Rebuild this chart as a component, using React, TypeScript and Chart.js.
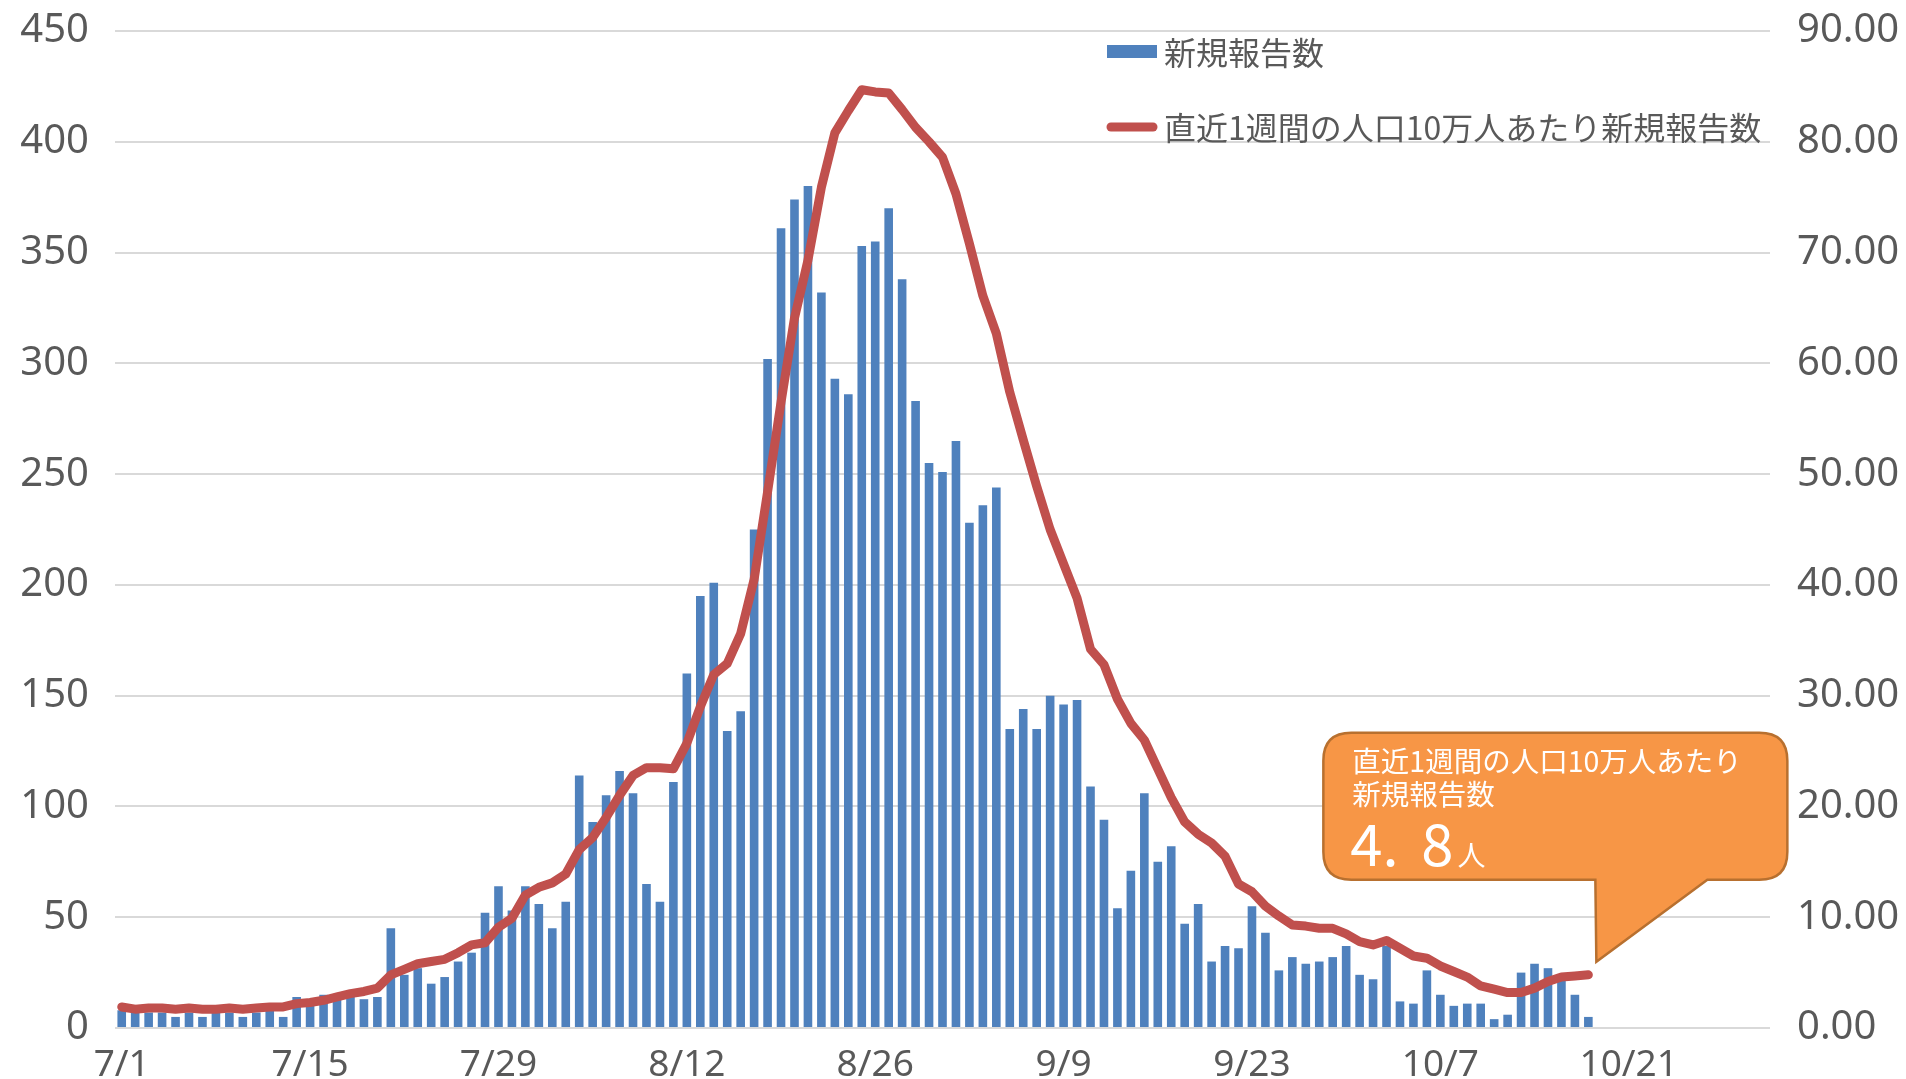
import React, { useEffect, useRef } from 'react';
import { Chart, registerables } from 'chart.js';

Chart.register(...registerables);

// ---- data ----
const MONTHS: [number, number][] = [[7, 31], [8, 31], [9, 30], [10, 31]];
const CATEGORIES: string[] = [];
for (const [m, n] of MONTHS) for (let d = 1; d <= n; d++) CATEGORIES.push(`${m}/${d}`);

const TICK_LABELS = ['7/1', '7/15', '7/29', '8/12', '8/26', '9/9', '9/23', '10/7', '10/21'];

const BAR_LABEL = '新規報告数';
const LINE_LABEL = '直近1週間の人口10万人あたり新規報告数';

const NEW_CASES = [
  8, 7, 7, 7, 5, 7, 5, 7, 7, 5,
  7, 8, 5, 14, 12, 15, 13, 15, 13, 14,
  45, 24, 27, 20, 23, 30, 34, 52, 64, 53,
  64, 56, 45, 57, 114, 93, 105, 116, 106, 65,
  57, 111, 160, 195, 201, 134, 143, 225, 302, 361,
  374, 380, 332, 293, 286, 353, 355, 370, 338, 283,
  255, 251, 265, 228, 236, 244, 135, 144, 135, 150,
  146, 148, 109, 94, 54, 71, 106, 75, 82, 47,
  56, 30, 37, 36, 55, 43, 26, 32, 29, 30,
  32, 37, 24, 22, 37, 12, 11, 26, 15, 10,
  11, 11, 4, 6, 25, 29, 27, 23, 15, 5,
];

const WEEKLY_PER_100K = [
  1.9, 1.7, 1.8, 1.8, 1.7, 1.8, 1.7, 1.7, 1.8, 1.7,
  1.8, 1.9, 1.9, 2.2, 2.3, 2.5, 2.8, 3.1, 3.3, 3.6,
  4.8, 5.3, 5.8, 6.0, 6.2, 6.8, 7.5, 7.7, 9.1, 9.9,
  12.0, 12.7, 13.1, 13.9, 16.1, 17.2, 19.0, 21.0, 22.8, 23.5,
  23.5, 23.4, 25.7, 29.0, 31.9, 32.9, 35.6, 40.5, 48.4, 56.5,
  64.1, 69.3, 75.9, 80.8, 82.8, 84.7, 84.5, 84.4, 82.9, 81.3,
  80.0, 78.6, 75.3, 70.8, 66.1, 62.7, 57.4, 53.1, 48.9, 45.0,
  41.9, 38.8, 34.2, 32.8, 29.7, 27.5, 26.0, 23.4, 20.8, 18.6,
  17.5, 16.7, 15.5, 13.0, 12.3, 11.0, 10.1, 9.3, 9.2, 9.0,
  9.0, 8.5, 7.8, 7.5, 7.9, 7.2, 6.5, 6.3, 5.6, 5.1,
  4.6, 3.8, 3.5, 3.2, 3.2, 3.6, 4.2, 4.6, 4.7, 4.8,
];

const CALLOUT_LINES = ['直近1週間の人口10万人あたり', '新規報告数'];
const CALLOUT_UNIT = '人';

// ---- styles ----
const BAR_COLOR = '#4f81bd';
const LINE_COLOR = '#c0504d';
const TEXT_COLOR = '#595959';
const GRID_COLOR = '#d9d9d9';
const CALLOUT_FILL = '#f79646';
const CALLOUT_STROKE = '#b8702f';
const JP_FONT = "'Noto Sans CJK JP', 'Noto Sans', sans-serif";
const TICK_FONT = "'Noto Sans', sans-serif";

const overlayPlugin = {
  id: 'overlay',
  afterDraw(chart: any) {
    const { ctx, chartArea } = chart;
    ctx.save();

    // legend (inside plot, top right)
    const lx = chartArea.right - 663;
    const ly1 = chartArea.top + 21;
    const ly2 = chartArea.top + 96;
    ctx.fillStyle = BAR_COLOR;
    ctx.fillRect(lx, ly1 - 7, 50, 13);
    ctx.strokeStyle = LINE_COLOR;
    ctx.lineWidth = 9;
    ctx.lineCap = 'round';
    ctx.beginPath();
    ctx.moveTo(lx + 4, ly2);
    ctx.lineTo(lx + 46, ly2);
    ctx.stroke();
    ctx.fillStyle = TEXT_COLOR;
    ctx.font = `32px ${JP_FONT}`;
    ctx.textAlign = 'left';
    ctx.textBaseline = 'middle';
    ctx.fillText(BAR_LABEL, lx + 57, ly1 + 1);
    ctx.fillText(LINE_LABEL, lx + 57, ly2 + 1);

    // callout anchored to the last point of the line
    const meta = chart.getDatasetMeta(1);
    const pts = meta.data;
    const last = pts[pts.length - 1];
    const tipX = last.x + 8;
    const tipY = last.y - 13;
    const L = tipX - 273;
    const R = tipX + 191;
    const T = tipY - 229;
    const B = tipY - 82;
    const r = 28;
    const p1 = tipX - 1;
    const p2 = tipX + 111;
    ctx.beginPath();
    ctx.moveTo(L + r, T);
    ctx.lineTo(R - r, T);
    ctx.quadraticCurveTo(R, T, R, T + r);
    ctx.lineTo(R, B - r);
    ctx.quadraticCurveTo(R, B, R - r, B);
    ctx.lineTo(p2, B);
    ctx.lineTo(tipX, tipY);
    ctx.lineTo(p1, B);
    ctx.lineTo(L + r, B);
    ctx.quadraticCurveTo(L, B, L, B - r);
    ctx.lineTo(L, T + r);
    ctx.quadraticCurveTo(L, T, L + r, T);
    ctx.closePath();
    ctx.fillStyle = CALLOUT_FILL;
    ctx.fill();
    ctx.lineWidth = 2.5;
    ctx.lineCap = 'butt';
    ctx.lineJoin = 'miter';
    ctx.strokeStyle = CALLOUT_STROKE;
    ctx.stroke();

    ctx.fillStyle = '#ffffff';
    ctx.textAlign = 'left';
    ctx.textBaseline = 'middle';
    ctx.font = `28.5px ${JP_FONT}`;
    ctx.fillText(CALLOUT_LINES[0], L + 29, T + 28);
    ctx.fillText(CALLOUT_LINES[1], L + 29, T + 61);

    const lastVal = WEEKLY_PER_100K[WEEKLY_PER_100K.length - 1];
    const [intPart, fracPart] = lastVal.toFixed(1).split('.');
    ctx.textBaseline = 'alphabetic';
    ctx.font = `58px ${JP_FONT}`;
    const baseY = B - 14;
    ctx.fillText(intPart + '.', L + 27, baseY);
    ctx.fillText(fracPart, L + 98, baseY);
    const fw = ctx.measureText(fracPart).width;
    ctx.font = `28px ${JP_FONT}`;
    ctx.fillText(CALLOUT_UNIT, L + 98 + fw + 4, baseY);

    ctx.restore();
  },
};

const fitY = (w: number) => (s: any) => {
  s.width = w;
  s.paddingTop = 0;
  s.paddingBottom = 0;
};

export default function App() {
  const ref = useRef<HTMLCanvasElement>(null);
  useEffect(() => {
    if (!ref.current) return;
    const chart = new Chart(ref.current, {
      type: 'bar',
      data: {
        labels: CATEGORIES,
        datasets: [
          {
            type: 'bar',
            label: BAR_LABEL,
            data: NEW_CASES,
            backgroundColor: BAR_COLOR,
            barPercentage: 0.64,
            categoryPercentage: 1,
            yAxisID: 'y',
            order: 1,
          },
          {
            type: 'line',
            label: LINE_LABEL,
            data: WEEKLY_PER_100K,
            borderColor: LINE_COLOR,
            backgroundColor: LINE_COLOR,
            borderWidth: 9,
            pointRadius: 0,
            tension: 0,
            borderCapStyle: 'round',
            borderJoinStyle: 'round',
            yAxisID: 'y1',
            order: 0,
          },
        ],
      } as any,
      options: {
        responsive: false,
        animation: false,
        layout: { padding: { top: 31, left: 0, right: 0, bottom: 0 } },
        plugins: { legend: { display: false }, tooltip: { enabled: false } },
        scales: {
          x: {
            grid: { display: false },
            border: { display: false },
            ticks: {
              autoSkip: false,
              maxRotation: 0,
              minRotation: 0,
              padding: 7,
              color: TEXT_COLOR,
              font: { family: TICK_FONT, size: 37 },
              callback: (_v: any, i: number) =>
                TICK_LABELS.includes(CATEGORIES[i]) ? CATEGORIES[i] : '',
            },
            afterFit: (s: any) => {
              s.height = 51;
              s.paddingLeft = 0;
              s.paddingRight = 0;
            },
          },
          y: {
            position: 'left',
            min: 0,
            max: 450,
            grid: { color: GRID_COLOR, lineWidth: 2, drawTicks: false },
            border: { display: false },
            ticks: {
              stepSize: 50,
              padding: 26,
              color: TEXT_COLOR,
              font: { family: TICK_FONT, size: 40 },
            },
            afterFit: fitY(115),
          },
          y1: {
            position: 'right',
            min: 0,
            max: 90,
            grid: { drawOnChartArea: false, drawTicks: false },
            border: { display: false },
            ticks: {
              stepSize: 10,
              padding: 27,
              color: TEXT_COLOR,
              font: { family: TICK_FONT, size: 40 },
              callback: (v: any) => Number(v).toFixed(2),
            },
            afterFit: fitY(136),
          },
        },
      } as any,
      plugins: [overlayPlugin],
    });
    return () => chart.destroy();
  }, []);
  return (
    <canvas
      ref={ref}
      width={1906}
      height={1079}
      style={{ position: 'fixed', left: 0, top: 0, display: 'block' }}
    />
  );
}
